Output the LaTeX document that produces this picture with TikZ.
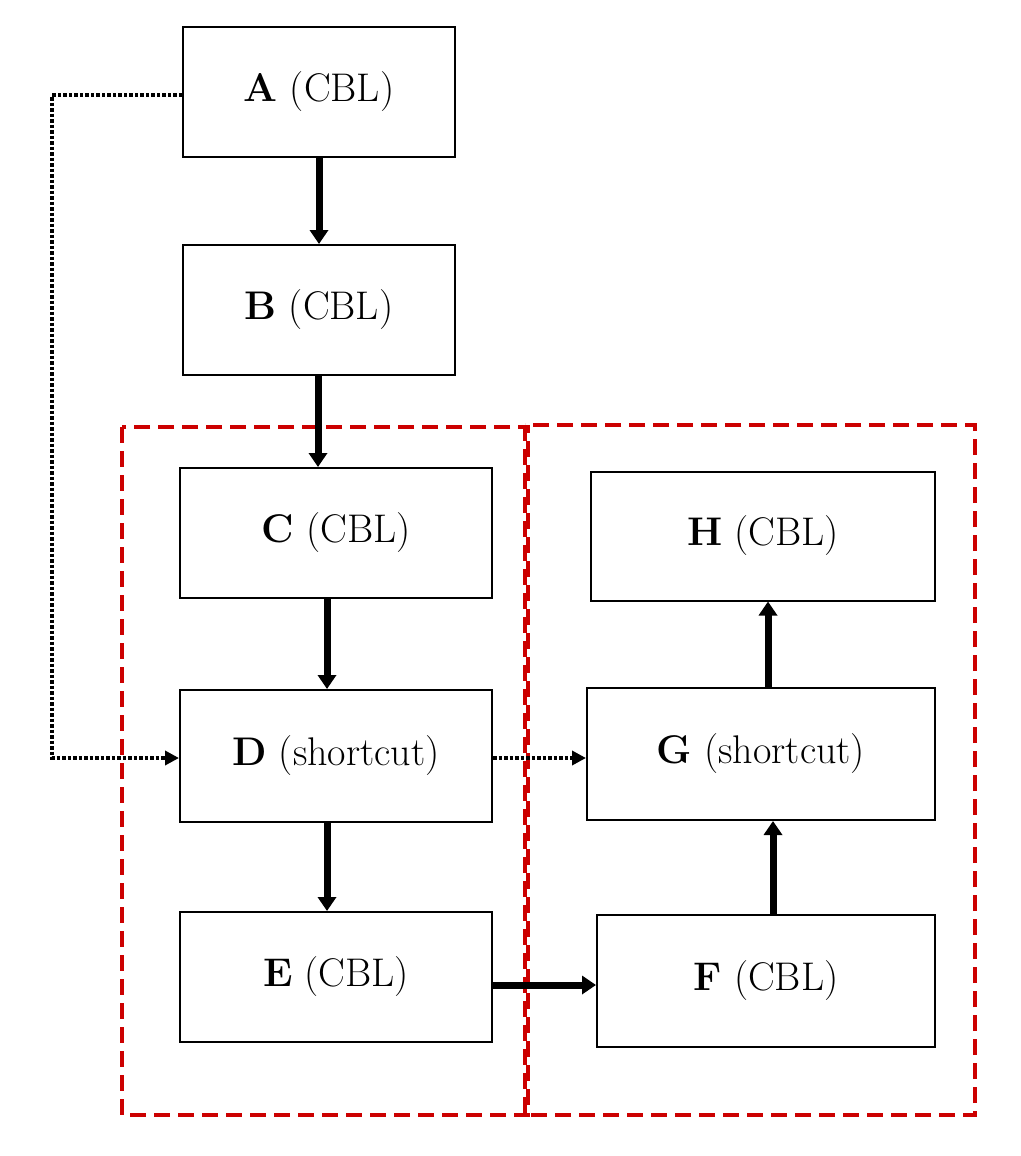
\documentclass[tikz,border=0pt]{standalone}
\usetikzlibrary{arrows.meta}
\begin{document}
\begin{tikzpicture}[x=1pt,y=-1pt,
  box/.style={draw,line width=2pt,inner sep=0pt,font=\fontsize{40}{48}\selectfont},
  thick arrow/.style={line width=7pt,-{Triangle[length=14pt,width=18pt]}},
  dot arrow/.style={line width=3.5pt,dotted,-{Triangle[length=14pt,width=14pt]}},
  region/.style={draw=red!80!black,line width=4pt,dash pattern=on 16pt off 8pt}]
\useasboundingbox (0,0) rectangle (1020,1156);
\node[box,minimum width=272pt,minimum height=130pt] (A) at (319,92) {\textbf{A}\ (CBL)};
\node[box,minimum width=272pt,minimum height=130pt] (B) at (319,310) {\textbf{B}\ (CBL)};
\node[box,minimum width=312pt,minimum height=130pt] (C) at (336,533) {\textbf{C}\ (CBL)};
\node[box,minimum width=312pt,minimum height=132pt] (D) at (336,756) {\textbf{D}\ (shortcut)};
\node[box,minimum width=312pt,minimum height=130pt] (E) at (336,977) {\textbf{E}\ (CBL)};
\node[box,minimum width=338pt,minimum height=132pt] (F) at (766,981) {\textbf{F}\ (CBL)};
\node[box,minimum width=348pt,minimum height=132pt] (G) at (761,754) {\textbf{G}\ (shortcut)};
\node[box,minimum width=344pt,minimum height=129pt] (H) at (763,536) {\textbf{H}\ (CBL)};
\draw[region] (122,427) rectangle (528,1115);
\draw[region] (525,425) rectangle (975,1115);
\draw[thick arrow] (A.south) -- (B.north);
\draw[thick arrow] (B.south -| 318,0) -- (C.north -| 318,0);
\draw[thick arrow] (C.south -| 327,0) -- (D.north -| 327,0);
\draw[thick arrow] (D.south -| 327,0) -- (E.north -| 327,0);
\draw[thick arrow] (E.east |- 0,985) -- (F.west |- 0,985);
\draw[thick arrow] (F.north -| 773,0) -- (G.south -| 773,0);
\draw[thick arrow] (G.north -| 768,0) -- (H.south -| 768,0);
\coordinate (c1) at (52,95);
\coordinate (c2) at (52,758);
\draw[dot arrow] (A.west |- 0,95) -- (c1) -- (c2) -- (D.west |- 0,758);
\draw[dot arrow] (D.east |- 0,758) -- (G.west |- 0,758);
\end{tikzpicture}
\end{document}
